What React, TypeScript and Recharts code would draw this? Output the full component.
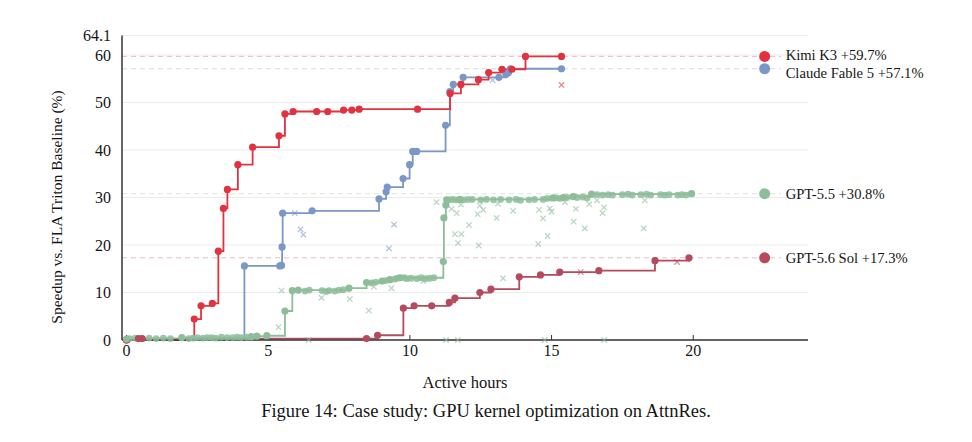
import React from "react";
import { ComposedChart, Line, Scatter, XAxis, YAxis, CartesianGrid, ReferenceLine, ReferenceDot } from "recharts";

type Pt = { x: number; y: number };
const pts = (a: number[][]): Pt[] => a.map(([x, y]) => ({ x, y }));

const xTicks = [0, 5, 10, 15, 20];
const yTicks = [0, 10, 20, 30, 40, 50, 60, 64.1];

// running best (step line + dots)
const kimiBest = pts([
  [0, 0], [2.39, 4.4], [2.63, 7.2], [3.03, 7.7], [3.24, 18.7], [3.42, 27.7], [3.56, 31.7],
  [3.93, 36.9], [4.45, 40.6], [5.38, 43.0], [5.59, 47.6], [5.88, 48.1], [6.71, 48.1],
  [7.1, 48.1], [7.66, 48.4], [7.95, 48.4], [8.21, 48.6], [10.27, 48.6], [11.42, 51.9],
  [11.8, 53.8], [12.42, 54.8], [12.78, 56.3], [13.25, 57.0], [13.6, 57.0], [14.08, 59.7],
  [15.35, 59.7],
]);
const claudeBest = pts([
  [0, 0], [4.16, 15.6], [5.41, 15.6], [5.47, 15.7], [5.49, 19.6], [5.51, 26.7], [6.55, 27.2],
  [8.91, 29.7], [9.16, 31.2], [9.2, 32.2], [9.76, 34.0], [9.99, 36.9], [10.1, 39.7],
  [10.24, 39.7], [11.26, 45.2], [11.41, 52.3], [11.53, 53.8], [11.88, 55.3], [13.14, 55.3],
  [13.39, 55.9], [13.48, 56.3], [13.55, 57.1], [15.35, 57.1],
]);
const gptBest = pts([
  [0, 0.2], [1.95, 0.5], [4.4, 0.7], [4.6, 0.8], [4.95, 0.9], [5.59, 6.1], [5.85, 10.4],
  [6.06, 10.5], [7.85, 10.9], [8.47, 12.1], [9.02, 12.4], [9.29, 12.7], [9.65, 13.1],
  [11.18, 16.5], [11.2, 25.7], [11.27, 28.4], [11.3, 29.5], [11.76, 29.6], [15.05, 29.9],
  [15.41, 30.0], [15.76, 30.2], [16.41, 30.7], [19.94, 30.8],
]);
const solBest = pts([
  [0, 0], [0.42, 0.3], [0.55, 0.3], [8.47, 0.3], [8.86, 1.0], [9.77, 6.7], [10.15, 7.2],
  [10.77, 7.2], [11.39, 7.9], [11.59, 8.8], [12.47, 10.0], [12.86, 10.7], [13.86, 13.3],
  [14.61, 13.7], [15.29, 14.3], [16.67, 14.6], [18.65, 16.7], [19.85, 17.3],
]);

// other valid attempts (dots near the running best)
const gptTries = pts([
  [0.1, 0.3], [0.3, 0.4], [0.55, 0.3], [0.8, 0.4], [1.05, 0.3], [1.3, 0.4], [1.55, 0.3],
  [2.2, 0.3], [2.35, 0.4], [2.5, 0.5], [2.7, 0.4], [2.85, 0.5], [3.0, 0.5], [3.15, 0.4],
  [3.35, 0.6], [3.55, 0.5], [3.75, 0.5], [3.9, 0.6], [4.05, 0.5], [4.25, 0.6],
  [6.3, 10.3], [6.45, 10.5], [6.9, 10.4], [7.05, 10.2], [7.15, 10.4], [7.35, 10.3],
  [7.5, 10.5], [7.65, 10.6], [8.65, 12.0], [8.8, 12.2], [9.15, 12.5], [9.45, 12.8],
  [9.55, 13.0], [9.8, 13.1], [9.9, 12.9], [10.05, 13.0], [10.25, 12.9], [10.4, 13.1],
  [10.55, 12.9], [10.7, 13.0], [10.85, 13.1], [11.38, 29.5], [11.5, 29.6], [11.62, 29.5],
  [11.9, 29.5], [12.05, 29.6], [12.2, 29.6], [12.5, 29.5], [12.7, 29.6], [12.95, 29.5],
  [13.2, 29.6], [13.5, 29.5], [13.75, 29.6], [13.9, 29.4], [14.2, 29.5], [14.4, 29.6],
  [14.7, 29.6], [14.85, 29.8], [15.15, 29.9], [15.3, 29.8], [15.55, 30.0], [15.9, 30.0],
  [16.1, 30.1], [16.25, 29.9], [16.6, 30.6], [16.8, 30.5], [17.0, 30.6], [17.15, 30.5],
  [17.5, 30.6], [17.7, 30.7], [17.85, 30.5], [18.15, 30.6], [18.35, 30.7], [18.5, 30.5],
  [18.85, 30.6], [19.0, 30.5], [19.15, 30.6], [19.45, 30.5], [19.6, 30.6], [19.75, 30.5],
]);

// failed / regressed attempts (crosses)
const kimiFails = pts([[15.35, 53.7]]);
const claudeFails = pts([
  [5.94, 26.7], [6.14, 23.3], [6.24, 22.2], [9.26, 19.3], [9.44, 24.3], [12.92, 54.7],
]);
const gptFails = pts([
  [5.47, 10.4], [5.36, 2.7], [6.88, 8.9], [7.88, 8.6], [8.55, 6.2], [8.73, 11.2], [9.35, 10.9],
  [10.47, 12.4], [10.94, 29.0], [11.47, 27.6], [11.65, 26.7], [11.8, 28.5], [12.47, 28.3],
  [12.59, 27.4], [12.39, 26.5], [12.09, 24.2], [11.59, 22.3], [11.82, 22.3], [11.7, 20.4],
  [12.43, 19.9], [13.06, 25.7], [13.64, 27.2], [13.11, 28.7], [14.56, 27.4], [14.7, 25.6],
  [14.94, 27.7], [15.0, 27.0], [14.86, 21.9], [14.53, 20.2], [15.47, 29.0], [15.86, 27.6],
  [16.33, 28.6], [16.85, 27.9], [16.8, 26.7], [15.78, 24.9], [16.17, 23.5], [18.25, 23.5],
  [18.29, 29.4], [16.6, 29.4], [13.29, 13.0], [6.43, 0], [11.28, 0], [11.69, 0], [14.76, 0],
  [16.86, 0],
]);
const solFails = pts([[16.03, 14.3], [19.43, 16.4]]);

const names = ["Kimi K3", "Claude Fable 5", "GPT-5.5", "GPT-5.6 Sol"];
const finals = [59.7, 57.1, 30.8, 17.3];
const colors = ["#e3323f", "#7b97c8", "#8dbd99", "#b44a5c"];
const labelShift = [-1, 4, 0, 0];

const FONT = "'Liberation Serif', 'Times New Roman', serif";
const INK = "#151515";

const Cross = (props: any) => {
  const { cx, cy, fill } = props;
  if (cx == null || cy == null) return null;
  const s = 2.7;
  return (
    <path
      d={`M${cx - s},${cy - s}L${cx + s},${cy + s}M${cx - s},${cy + s}L${cx + s},${cy - s}`}
      stroke={fill}
      strokeWidth={1.3}
      strokeOpacity={0.6}
      fill="none"
    />
  );
};

const Dot = (props: any) => {
  const { cx, cy, fill } = props;
  if (cx == null || cy == null) return null;
  return <circle cx={cx} cy={cy} r={3.4} fill={fill} fillOpacity={0.85} />;
};

export default function App() {
  const bests = [kimiBest, claudeBest, gptBest, solBest];
  const fails = [kimiFails, claudeFails, gptFails, solFails];
  const order = [3, 1, 0, 2];

  return (
    <div style={{ position: "absolute", left: 0, top: 0, width: 972, height: 442, background: "#fff" }}>
      <ComposedChart
        width={972}
        height={442}
        margin={{ top: 35.5, right: 164, bottom: 0, left: 0 }}
        style={{ fontFamily: FONT }}
      >
        <CartesianGrid horizontal vertical={false} stroke="#ececec" strokeWidth={1} />
        <XAxis
          type="number"
          dataKey="x"
          domain={[-0.16, 24.05]}
          ticks={xTicks}
          interval={0}
          height={102}
          tickSize={-5}
          tickMargin={10}
          tick={{ fill: INK, fontSize: 16, fontFamily: FONT }}
          tickLine={{ stroke: "#333" }}
          axisLine={{ stroke: "#333", strokeWidth: 1.5 }}
          label={{
            content: (p: any) => {
              const vb = p.viewBox;
              return (
                <text x={vb.x + vb.width / 2} y={vb.y + 48} textAnchor="middle" fontSize={16.5} fill={INK} fontFamily={FONT}>
                  Active hours
                </text>
              );
            },
          }}
        />
        <YAxis
          type="number"
          dataKey="y"
          domain={[0, 64.1]}
          ticks={yTicks}
          interval={0}
          width={122}
          tickLine={false}
          tickSize={0}
          tickMargin={11}
          tick={{ fill: INK, fontSize: 16, fontFamily: FONT }}
          axisLine={{ stroke: "#333", strokeWidth: 1.5 }}
          label={{
            content: (p: any) => {
              const vb = p.viewBox;
              const cx = vb.x + 62;
              const cy = 207;
              return (
                <text x={cx} y={cy} textAnchor="middle" fontSize={15.5} fill={INK} fontFamily={FONT} transform={`rotate(-90 ${cx} ${cy})`}>
                  Speedup vs. FLA Triton Baseline (%)
                </text>
              );
            },
          }}
        />
        {finals.map((v, i) => (
          <ReferenceLine
            key={"ref" + i}
            segment={[{ x: -0.16, y: v }, { x: 23.1, y: v }]}
            stroke={colors[i]}
            strokeOpacity={0.35}
            strokeDasharray="5 4"
            strokeWidth={1}
          />
        ))}
        {order.map((i) => (
          <Scatter
            key={"f" + i}
            data={fails[i]}
            dataKey="y"
            fill={colors[i]}
            shape={<Cross />}
            isAnimationActive={false}
          />
        ))}
        <Scatter data={gptTries} dataKey="y" fill={colors[2]} shape={<Dot />} isAnimationActive={false} />
        {order.map((i) => (
          <Line
            key={"l" + i}
            data={bests[i]}
            dataKey="y"
            type="stepAfter"
            stroke={colors[i]}
            strokeWidth={1.8}
            dot={{ r: 3.6, fill: colors[i], stroke: colors[i], strokeWidth: 0 }}
            activeDot={false}
            isAnimationActive={false}
          />
        ))}
        {finals.map((v, i) => (
          <ReferenceDot
            key={"d" + i}
            x={22.52}
            y={v}
            r={5.5}
            fill={colors[i]}
            stroke="none"
            label={{
              content: (p: any) => {
                const vb = p.viewBox;
                const cx = vb.x + vb.width / 2;
                const cy = vb.y + vb.height / 2;
                return (
                  <text x={cx + 21} y={cy + labelShift[i]} dominantBaseline="central" fontSize={14.6} fill={INK} fontFamily={FONT}>
                    {`${names[i]} +${v.toFixed(1)}%`}
                  </text>
                );
              },
            }}
          />
        ))}
      </ComposedChart>
      <div
        style={{
          position: "absolute",
          left: 0,
          top: 400,
          width: 972,
          textAlign: "center",
          fontFamily: FONT,
          fontSize: 18.5,
          lineHeight: "22px",
          color: INK,
        }}
      >
        Figure 14: Case study: GPU kernel optimization on AttnRes.
      </div>
    </div>
  );
}
